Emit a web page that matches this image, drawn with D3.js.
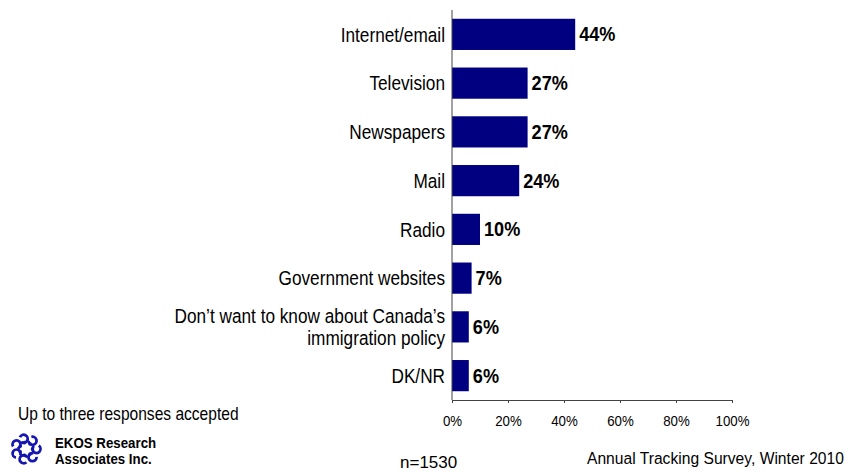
<!DOCTYPE html>
<html>
<head>
<meta charset="utf-8">
<script src="https://cdn.jsdelivr.net/npm/d3@7"></script>
<style>
  body { margin: 0; background: #fff; }
  svg { display: block; font-family: "Liberation Sans", Arial, sans-serif; }
</style>
</head>
<body>
<svg id="chart" width="849" height="472"></svg>
<script>
// Sources of information on immigration policy (share of respondents)
const categories = [
  ["Internet/email"],
  ["Television"],
  ["Newspapers"],
  ["Mail"],
  ["Radio"],
  ["Government websites"],
  ["Don\u2019t want to know about Canada\u2019s", "immigration policy"],
  ["DK/NR"]
];
const values = [44, 27, 27, 24, 10, 7, 6, 6];
const tickValues = [0, 20, 40, 60, 80, 100];

const svg = d3.select("#chart");
const navy = "#000080";

// Text drawn with a narrowed face: tall glyphs, condensed horizontally
function narrowText(parent, x, y, str, size, sx, opts = {}) {
  const g = parent.append("g").attr("transform", `translate(${x},${y}) scale(${sx},1)`);
  return g.append("text")
    .attr("font-size", size)
    .attr("fill", "#000")
    .attr("text-anchor", opts.anchor || "start")
    .attr("font-weight", opts.weight || "normal")
    .text(str);
}

const x = d3.scaleLinear().domain([0, 100]).range([452, 732]);
const y = d3.scaleBand().domain(d3.range(categories.length)).range([10, 400]).paddingInner(0.36).paddingOuter(0.18);
const mid = i => y(i) + y.bandwidth() / 2;

// Bars
svg.selectAll("rect.bar").data(values).join("rect")
  .attr("class", "bar")
  .attr("x", x(0))
  .attr("y", (d, i) => y(i))
  .attr("width", d => x(d) - x(0))
  .attr("height", y.bandwidth())
  .attr("fill", navy);

// Value labels
values.forEach((v, i) => {
  narrowText(svg, x(v) + 4, mid(i) + 7, v + "%", 19.5, 0.93, { weight: "bold" });
});

// Category labels (right-aligned, possibly two lines)
const lineGap = 22;
categories.forEach((lines, i) => {
  lines.forEach((ln, k) => {
    const by = mid(i) + 7.3 + (k - (lines.length - 1) / 2) * lineGap;
    narrowText(svg, 445, by, ln, 20.5, 0.84, { anchor: "end" });
  });
});

// Vertical category axis line
svg.append("line")
  .attr("x1", x(0)).attr("x2", x(0))
  .attr("y1", 10).attr("y2", 400)
  .attr("stroke", "#444").attr("stroke-width", 1);

// Percentage axis
const xAxis = d3.axisBottom(x).tickValues(tickValues).tickFormat(d => d + "%").tickSize(3).tickSizeOuter(0);
const gx = svg.append("g").attr("transform", "translate(0,400)").call(xAxis);
gx.select(".domain").attr("stroke", "#444");
gx.selectAll(".tick line").attr("stroke", "#444");
gx.selectAll(".tick text")
  .attr("font-family", "'Liberation Sans', Arial, sans-serif")
  .attr("font-size", 14)
  .attr("fill", "#000")
  .attr("y", 26)
  .attr("dy", 0)
  .attr("transform", "scale(0.95,1)");

// Footer notes
narrowText(svg, 18, 420, "Up to three responses accepted", 17.5, 0.89);
narrowText(svg, 400, 468, "n=1530", 17, 1.0);
narrowText(svg, 587, 464, "Annual Tracking Survey, Winter 2010", 17, 0.92);

// Company mark: ring of curled swirls
const logo = svg.append("g").attr("transform", "translate(26,449)");
const blue = "#1515b0";
d3.range(7).forEach(k => {
  const a = k / 7 * 2 * Math.PI;
  const r = 10.5;
  const cx = r * Math.cos(a), cy = r * Math.sin(a);
  const arc = d3.arc().innerRadius(2.6).outerRadius(5.4)
    .startAngle(a + 0.6).endAngle(a + 0.6 + 1.6 * Math.PI);
  logo.append("path").attr("d", arc()).attr("transform", `translate(${cx},${cy})`).attr("fill", blue);
  logo.append("circle").attr("cx", cx * 0.62).attr("cy", cy * 0.62).attr("r", 1.8).attr("fill", blue);
});
narrowText(svg, 55, 448, "EKOS Research", 14, 0.95, { weight: "bold" });
narrowText(svg, 55, 464, "Associates Inc.", 14, 0.95, { weight: "bold" });
</script>
</body>
</html>
